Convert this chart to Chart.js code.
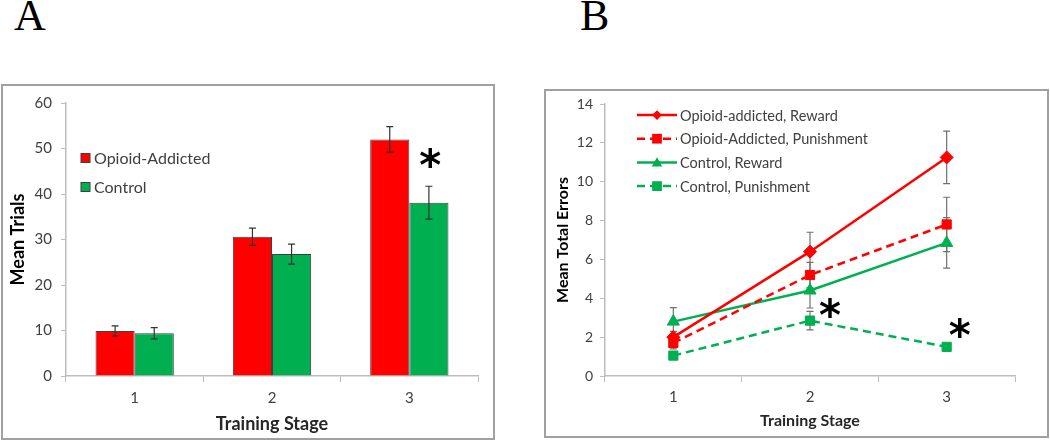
<!DOCTYPE html>
<html>
<head>
<meta charset="utf-8">
<script src="https://cdn.jsdelivr.net/npm/chart.js@4.4.1/dist/chart.umd.min.js"></script>
<style>
  html, body { margin: 0; padding: 0; background: #fff; }
  body { width: 1050px; height: 441px; position: relative; overflow: hidden; }
  .frame { position: absolute; border: 2px solid #a0a0a0; box-sizing: border-box; }
  .letter { position: absolute; font-family: "Liberation Serif", "Times New Roman", serif; font-size: 44px; line-height: 44px; color: #000; }
  .wrap { position: absolute; top: 0; height: 441px; }
</style>
</head>
<body>
<div class="letter" style="left:14px; top:-6px;">A</div>
<div class="letter" style="left:580px; top:-6px;">B</div>
<div class="frame" style="left:1px; top:84px; width:494px; height:356px;"></div>
<div class="frame" style="left:544px; top:89px; width:505px; height:349px;"></div>
<div class="wrap" style="left:0; width:500px;"><canvas id="chartA" width="500" height="441"></canvas></div>
<div class="wrap" style="left:540px; width:510px;"><canvas id="chartB" width="510" height="441"></canvas></div>
<script>
// ---------- Data: Panel A ----------
const stages = ['1', '2', '3'];
const trialsOpioid = [9.9, 30.6, 52.0];
const trialsOpioidErr = [1.1, 1.9, 2.8];
const trialsControl = [9.4, 26.8, 38.1];
const trialsControlErr = [1.25, 2.2, 3.6];
const trialsTicks = [0, 10, 20, 30, 40, 50, 60];
const starsA = [{ stage: 2, value: 47.5 }];

// ---------- Data: Panel B ----------
const errOpioidReward = [2.0, 6.4, 11.25];
const errOpioidRewardSE = [0.3, 1.0, 1.35];
const errOpioidPunish = [1.7, 5.2, 7.8];
const errOpioidPunishSE = [0.3, 0.65, 1.4];
const errControlReward = [2.8, 4.4, 6.85];
const errControlRewardSE = [0.72, 0.9, 1.3];
const errControlPunish = [1.05, 2.85, 1.5];
const errControlPunishSE = [0.2, 0.48, 0.15];
const errorsTicks = [0, 2, 4, 6, 8, 10, 12, 14];
const starsB = [{ stage: 1, value: 3.4 }, { stage: 2, value: 2.35 }];

const RED = '#ff0000';
const GREEN = '#00b050';
const FONT = 'Lato, "Open Sans", sans-serif';
const AXIS = '#bdbdbd';
const TXT = '#404040';

function drawErrorBars(chart, opts) {
  const ctx = chart.ctx;
  const y = chart.scales.y;
  ctx.save();
  ctx.strokeStyle = opts.color;
  ctx.lineWidth = 1.2;
  chart.data.datasets.forEach((ds, i) => {
    const meta = chart.getDatasetMeta(i);
    meta.data.forEach((el, j) => {
      const v = ds.data[j], e = ds.errors[j];
      const x = el.x;
      const yt = y.getPixelForValue(v + e), yb = y.getPixelForValue(v - e);
      ctx.beginPath();
      ctx.moveTo(x, yt); ctx.lineTo(x, yb);
      ctx.moveTo(x - 3.5, yt); ctx.lineTo(x + 3.5, yt);
      ctx.moveTo(x - 3.5, yb); ctx.lineTo(x + 3.5, yb);
      ctx.stroke();
    });
  });
  ctx.restore();
}

const errorBarPlugin = {
  id: 'errorBars',
  beforeDatasetsDraw(chart, args, opts) { if (opts.behind) drawErrorBars(chart, opts); },
  afterDatasetsDraw(chart, args, opts) { if (!opts.behind) drawErrorBars(chart, opts); }
};

const starPlugin = {
  id: 'stars',
  afterDraw(chart, args, opts) {
    const ctx = chart.ctx;
    ctx.save();
    ctx.fillStyle = '#000';
    ctx.font = 'bold ' + opts.size + 'px "DejaVu Sans", sans-serif';
    ctx.textAlign = 'center';
    ctx.textBaseline = 'middle';
    opts.items.forEach((s, k) => {
      const x = chart.scales.x.getPixelForValue(s.stage) + opts.dx[k];
      const yy = chart.scales.y.getPixelForValue(s.value);
      ctx.fillText('*', x, yy + opts.size * 0.22);
    });
    ctx.restore();
  }
};

const legendA = {
  id: 'legendA',
  afterDraw(chart) {
    const ctx = chart.ctx, ca = chart.chartArea;
    ctx.save();
    ctx.font = '16px ' + FONT;
    ctx.textBaseline = 'middle';
    chart.data.datasets.forEach((ds, i) => {
      const x = ca.left + 15, y = ca.top + 55 + i * 29;
      ctx.fillStyle = ds.backgroundColor;
      ctx.fillRect(x, y - 4.5, 9, 9);
      ctx.strokeStyle = '#404040'; ctx.lineWidth = 1;
      ctx.strokeRect(x, y - 4.5, 9, 9);
      ctx.fillStyle = TXT;
      ctx.fillText(ds.label, x + 13, y + 1);
    });
    ctx.restore();
  }
};

const legendB = {
  id: 'legendB',
  afterDraw(chart) {
    const ctx = chart.ctx, ca = chart.chartArea;
    ctx.save();
    ctx.font = '14.5px ' + FONT;
    ctx.textBaseline = 'middle';
    chart.data.datasets.forEach((ds, i) => {
      const x0 = ca.left + 32, x1 = x0 + 40, y = ca.top + 11 + i * 23.7;
      ctx.strokeStyle = ds.borderColor; ctx.lineWidth = 2.5;
      ctx.setLineDash(ds.borderDash || []);
      ctx.beginPath(); ctx.moveTo(x0, y); ctx.lineTo(x1, y); ctx.stroke();
      ctx.setLineDash([]);
      ctx.fillStyle = ds.pointBackgroundColor;
      const cx = (x0 + x1) / 2, r = ds.pointRadius * 0.75;
      ctx.beginPath();
      if (ds.pointStyle === 'rectRot') {
        ctx.moveTo(cx, y - r); ctx.lineTo(cx + r, y); ctx.lineTo(cx, y + r); ctx.lineTo(cx - r, y);
      } else if (ds.pointStyle === 'triangle') {
        ctx.moveTo(cx, y - r); ctx.lineTo(cx + r, y + r * 0.8); ctx.lineTo(cx - r, y + r * 0.8);
      } else {
        ctx.rect(cx - r, y - r, 2 * r, 2 * r);
      }
      ctx.closePath(); ctx.fill();
      ctx.fillStyle = TXT;
      ctx.fillText(ds.label, x1 + 3, y + 1);
    });
    ctx.restore();
  }
};

// ---------- Chart A ----------
new Chart(document.getElementById('chartA'), {
  type: 'bar',
  data: {
    labels: stages,
    datasets: [
      { label: 'Opioid-Addicted', data: trialsOpioid, errors: trialsOpioidErr, backgroundColor: RED, borderColor: '#404040', borderWidth: 1 },
      { label: 'Control', data: trialsControl, errors: trialsControlErr, backgroundColor: GREEN, borderColor: '#404040', borderWidth: 1 }
    ]
  },
  options: {
    responsive: false, animation: false,
    devicePixelRatio: 1,
    layout: { padding: { top: 103, right: 22, left: 0, bottom: 0 } },
    datasets: { bar: { categoryPercentage: 0.57, barPercentage: 1 } },
    plugins: {
      legend: { display: false }, tooltip: { enabled: false },
      errorBars: { color: '#333', behind: false },
      stars: { items: starsA, dx: [21], size: 42 }
    },
    scales: {
      x: {
        afterFit: s => { s.height = 65; },
        grid: { offset: true, drawOnChartArea: false, tickLength: 6, color: AXIS },
        border: { color: AXIS, width: 1.5 },
        ticks: { color: TXT, font: { family: FONT, size: 15 }, padding: 7 },
        title: { display: true, text: 'Training Stage', color: '#262626', font: { family: FONT, size: 18, weight: 'bold' }, padding: { top: 0, bottom: 6 } }
      },
      y: {
        min: 0, max: 60,
        afterFit: s => { s.width = 66; },
        afterBuildTicks: s => { s.ticks = trialsTicks.map(v => ({ value: v })); },
        grid: { drawOnChartArea: false, tickLength: 5, color: AXIS },
        border: { color: AXIS, width: 1.5 },
        ticks: { color: TXT, font: { family: FONT, size: 15 }, padding: 9 },
        title: { display: true, text: 'Mean Trials', color: '#000', font: { family: FONT, size: 18, weight: 'bold' }, padding: { top: 7, bottom: 0 } }
      }
    }
  },
  plugins: [errorBarPlugin, starPlugin, legendA]
});

// ---------- Chart B ----------
function lineDs(label, data, errors, color, dash, style, radius) {
  return {
    label, data, errors,
    borderColor: color, backgroundColor: color,
    pointBackgroundColor: color, pointBorderColor: color,
    borderWidth: 2.5, borderDash: dash,
    pointStyle: style, pointRadius: radius, pointBorderWidth: 1,
    tension: 0, fill: false
  };
}

new Chart(document.getElementById('chartB'), {
  type: 'line',
  data: {
    labels: stages,
    datasets: [
      lineDs('Opioid-addicted, Reward', errOpioidReward, errOpioidRewardSE, RED, [], 'rectRot', 6.5),
      lineDs('Opioid-Addicted, Punishment', errOpioidPunish, errOpioidPunishSE, RED, [8, 5], 'rect', 6.5),
      lineDs('Control, Reward', errControlReward, errControlRewardSE, GREEN, [], 'triangle', 7),
      lineDs('Control, Punishment', errControlPunish, errControlPunishSE, GREEN, [8, 5], 'rect', 6.5)
    ]
  },
  options: {
    responsive: false, animation: false,
    devicePixelRatio: 1,
    layout: { padding: { top: 104, right: 35, left: 0, bottom: 0 } },
    plugins: {
      legend: { display: false }, tooltip: { enabled: false },
      errorBars: { color: '#707070', behind: true },
      stars: { items: starsB, dx: [20, 13], size: 42 }
    },
    scales: {
      x: {
        offset: true,
        afterFit: s => { s.height = 65; },
        grid: { offset: true, drawOnChartArea: false, tickLength: 6, color: AXIS },
        border: { color: AXIS, width: 1.5 },
        ticks: { color: TXT, font: { family: FONT, size: 15 }, padding: 6 },
        title: { display: true, text: 'Training Stage', color: '#262626', font: { family: FONT, size: 16, weight: 'bold' }, padding: { top: 0, bottom: 11 } }
      },
      y: {
        min: 0, max: 14,
        afterFit: s => { s.width = 65; },
        afterBuildTicks: s => { s.ticks = errorsTicks.map(v => ({ value: v })); },
        grid: { drawOnChartArea: false, tickLength: 5, color: AXIS },
        border: { color: AXIS, width: 1.5 },
        ticks: { color: TXT, font: { family: FONT, size: 14 }, padding: 7 },
        title: { display: true, text: 'Mean Total Errors', color: '#000', font: { family: FONT, size: 16, weight: 'bold' }, padding: { top: 13, bottom: 0 } }
      }
    }
  },
  plugins: [errorBarPlugin, starPlugin, legendB]
});
</script>
</body>
</html>
